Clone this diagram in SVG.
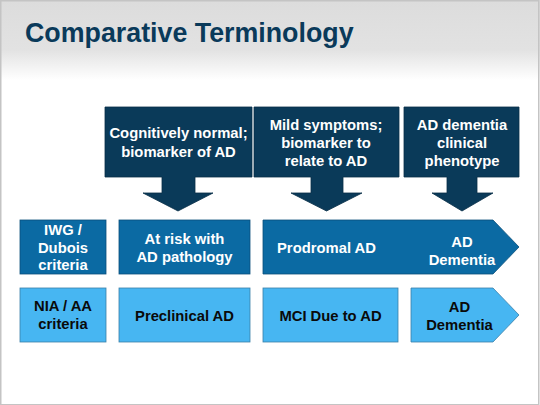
<svg xmlns="http://www.w3.org/2000/svg" width="540" height="405" viewBox="0 0 540 405">
  <defs>
    <linearGradient id="hdr" x1="0" y1="0" x2="0" y2="1">
      <stop offset="0" stop-color="#dcdcdc"/>
      <stop offset="0.62" stop-color="#e2e2e2"/>
      <stop offset="1" stop-color="#ffffff"/>
    </linearGradient>
  </defs>
  <style>
    text { font-family: "Liberation Sans", Arial, sans-serif; font-weight: bold; text-anchor: middle; }
    .title { font-size: 26.8px; fill: #0a3a5a; text-anchor: start; }
    .top { fill: #0a3a59; stroke: #092f48; stroke-width: 0.8; }
    .r1 { fill: #0b6aa3; stroke: #0a4f7a; stroke-width: 0.8; }
    .r2 { fill: #47b6f2; stroke: #3a7fa8; stroke-width: 0.8; }
    .tw { fill: #ffffff; font-size: 14.8px; }
    .tk { fill: #0a0a0a; font-size: 14.8px; }
  </style>
  <rect x="0" y="0" width="540" height="405" fill="#ffffff"/>
  <rect x="0" y="0" width="540" height="80" fill="url(#hdr)"/>
  <rect x="0.75" y="0.75" width="538" height="404" fill="none" stroke="#c4c4c4" stroke-width="1.5"/>
  <text class="title" x="25" y="42">Comparative Terminology</text>

  <g id="callout-cognitively-normal">
    <path class="top" d="M105,107 H252 V177 H195 V193 H213 L178,211 L143,193 H162 V177 H105 Z"/>
    <text class="tw" x="178.5" y="138.3">Cognitively normal;</text>
    <text class="tw" x="178.5" y="156.7">biomarker of AD</text>
  </g>
  <g id="callout-mild-symptoms">
    <path class="top" d="M254,107 H399 V177 H343 V193 H362 L326.5,211 L291,193 H311 V177 H254 Z"/>
    <text class="tw" x="326" y="130">Mild symptoms;</text>
    <text class="tw" x="326" y="148">biomarker to</text>
    <text class="tw" x="326" y="166">relate to AD</text>
  </g>
  <g id="callout-ad-dementia">
    <path class="top" d="M404,107 H519 V177 H477 V193 H493 L462,211 L432,193 H447 V177 H404 Z"/>
    <text class="tw" x="462" y="130">AD dementia</text>
    <text class="tw" x="462" y="148">clinical</text>
    <text class="tw" x="462" y="166">phenotype</text>
  </g>

  <g id="iwg-criteria">
    <rect class="r1" x="20" y="220" width="86" height="54"/>
    <text class="tw" x="63" y="235">IWG /</text>
    <text class="tw" x="63" y="252.7">Dubois</text>
    <text class="tw" x="63" y="270">criteria</text>
  </g>
  <g id="at-risk">
    <rect class="r1" x="119" y="220" width="131" height="54"/>
    <text class="tw" x="184.5" y="243.5">At risk with</text>
    <text class="tw" x="184.5" y="261.5">AD pathology</text>
  </g>
  <g id="prodromal">
    <path class="r1" d="M263,220 H493 L519,247 L493,274 H263 Z"/>
    <text class="tw" x="277" y="252.5" style="text-anchor:start">Prodromal AD</text>
    <text class="tw" x="462" y="246.5">AD</text>
    <text class="tw" x="462" y="265">Dementia</text>
  </g>

  <g id="nia-criteria">
    <rect class="r2" x="20" y="288" width="86" height="54"/>
    <text class="tk" x="63" y="311">NIA / AA</text>
    <text class="tk" x="63" y="329">criteria</text>
  </g>
  <g id="preclinical">
    <rect class="r2" x="119" y="288" width="131" height="54"/>
    <text class="tk" x="184.5" y="320.5">Preclinical AD</text>
  </g>
  <g id="mci">
    <rect class="r2" x="263" y="288" width="135" height="54"/>
    <text class="tk" x="330.5" y="320.5">MCI Due to AD</text>
  </g>
  <g id="ad-dementia-nia">
    <path class="r2" d="M411,288 H493 L519,315 L493,342 H411 Z"/>
    <text class="tk" x="459.5" y="311.5">AD</text>
    <text class="tk" x="459.5" y="330">Dementia</text>
  </g>

  <g id="connectors"></g>
</svg>
